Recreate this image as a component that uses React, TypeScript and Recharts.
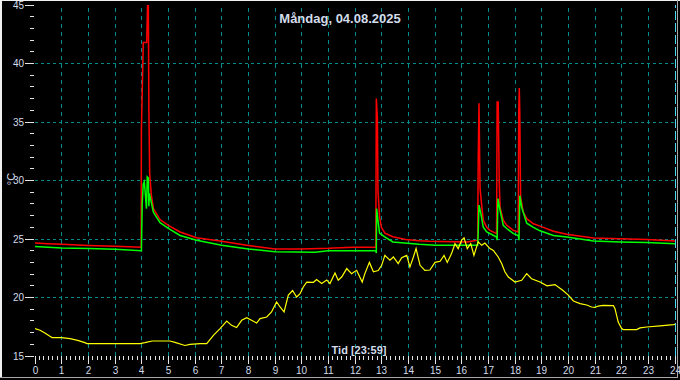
import React from 'react';
import { LineChart, Line, XAxis, YAxis, ReferenceLine } from 'recharts';

// [hour, °C]
const redSeries: [number, number][] = [
  [0, 24.65], [0.5, 24.6], [1, 24.55], [2, 24.45], [3, 24.38], [3.98, 24.3],
  [3.99, 34.3], [4.02, 37.5], [4.06, 41.8], [4.19, 41.8], [4.22, 45], [4.25, 45],
  [4.27, 36], [4.3, 30.6], [4.36, 28.8], [4.44, 27.6], [4.69, 26.66], [5.0, 26.17],
  [5.44, 25.6], [6.06, 25.1], [7.0, 24.8], [8.0, 24.45], [9.0, 24.15], [10, 24.15],
  [11, 24.2], [11.9, 24.3], [12.78, 24.3], [12.8, 37.0], [12.84, 35.3], [12.86, 29.2],
  [12.92, 26.9], [12.99, 26.0], [13.12, 25.5], [13.42, 25.2], [13.9, 24.95], [14.4, 24.85],
  [14.8, 24.8], [16.2, 24.75], [16.6, 24.9], [16.62, 31.7], [16.65, 36.6], [16.69, 29.3],
  [16.75, 27.9], [16.81, 26.6], [16.94, 26.0], [17.06, 25.74], [17.31, 25.46], [17.33, 36.7],
  [17.37, 36.7], [17.41, 29.7], [17.44, 27.7], [17.56, 26.6], [17.69, 26.17], [17.94, 25.74],
  [18.12, 25.6], [18.14, 35.8], [18.16, 37.9], [18.18, 35.8], [18.21, 28.6], [18.31, 27.3],
  [18.44, 26.74], [18.69, 26.3], [18.94, 26.1], [19.44, 25.66], [19.94, 25.4], [20.94, 25.09],
  [21.94, 25.03], [22.94, 24.95], [24, 24.83],
];

const greenSeries: [number, number][] = [
  [0, 24.35], [1, 24.23], [2, 24.18], [3, 24.12], [3.99, 24.0], [4.0, 25.3], [4.02, 28.0],
  [4.06, 29.7], [4.1, 29.9], [4.18, 27.6], [4.21, 30.3], [4.25, 30.2], [4.27, 27.8],
  [4.29, 28.9], [4.44, 27.3], [4.69, 26.4], [5.0, 25.9], [5.44, 25.3], [6.06, 24.9],
  [7.0, 24.46], [8.0, 24.15], [9.0, 23.9], [10.5, 23.86], [11, 24.0], [12.78, 24.0],
  [12.8, 23.8], [12.81, 27.6], [12.86, 26.6], [12.92, 25.5], [13.1, 25.2], [13.42, 24.75],
  [14.4, 24.55], [15, 24.46], [16.6, 24.46], [16.62, 25.5], [16.65, 27.9], [16.71, 27.3],
  [16.81, 26.0], [16.94, 25.6], [17.31, 25.17], [17.33, 24.9], [17.36, 28.45], [17.44, 27.45],
  [17.56, 26.17], [17.69, 25.9], [17.94, 25.46], [18.12, 25.3], [18.15, 24.9], [18.18, 28.7],
  [18.25, 27.7], [18.44, 26.35], [18.69, 26.0], [18.94, 25.7], [19.44, 25.3], [19.94, 25.17],
  [20.94, 24.83], [21.94, 24.75], [22.94, 24.7], [24, 24.6],
];

const yellowSeries: [number, number][] = [
  [0, 17.34], [0.19, 17.2], [0.37, 16.97], [0.56, 16.68], [0.64, 16.57], [1.0, 16.57],
  [1.31, 16.49], [1.6, 16.34], [1.87, 16.14], [1.95, 16.06], [3.0, 16.06], [3.94, 16.06],
  [4.12, 16.14], [4.39, 16.28], [5.06, 16.28], [5.25, 16.17], [5.62, 15.9], [5.81, 16.0],
  [6.19, 16.06], [6.44, 16.06], [6.69, 16.77], [6.94, 17.34], [7.19, 17.99], [7.37, 17.62],
  [7.56, 17.43], [7.75, 18.05], [7.94, 18.28], [8.12, 18.05], [8.31, 17.82], [8.44, 18.2],
  [8.69, 18.33], [8.87, 18.76], [9.06, 19.62], [9.19, 19.19], [9.34, 18.76], [9.5, 20.2],
  [9.66, 20.6], [9.81, 20.04], [9.94, 20.33], [10.06, 20.9], [10.19, 21.32], [10.44, 21.3],
  [10.56, 21.53], [10.75, 21.19], [10.94, 21.5], [11.06, 21.19], [11.25, 22.1], [11.37, 21.47],
  [11.5, 21.75], [11.69, 22.47], [11.87, 22.04], [12.06, 22.32], [12.27, 21.32], [12.37, 22.04],
  [12.54, 23.0], [12.69, 22.2], [12.87, 22.3], [13.0, 22.75], [13.12, 23.6], [13.31, 23.18],
  [13.44, 23.46], [13.62, 22.9], [13.75, 23.4], [13.94, 23.6], [14.06, 22.6], [14.19, 23.46],
  [14.29, 24.18], [14.44, 22.75], [14.62, 22.32], [14.81, 22.35], [15.0, 23.0], [15.19, 23.1],
  [15.34, 23.6], [15.46, 23.0], [15.62, 23.75], [15.75, 24.6], [15.87, 24.18], [16.0, 24.9],
  [16.09, 25.1], [16.21, 24.18], [16.34, 24.6], [16.46, 23.6], [16.62, 24.75], [16.75, 24.46],
  [16.87, 24.66], [17.06, 24.18], [17.19, 24.03], [17.37, 23.46], [17.5, 22.9], [17.62, 22.2],
  [17.75, 21.75], [18.0, 21.32], [18.25, 21.47], [18.44, 22.04], [18.62, 21.6], [18.94, 21.32],
  [19.2, 21.0], [19.5, 21.1], [19.8, 20.6], [20.0, 20.2], [20.19, 19.7], [20.44, 19.48],
  [20.69, 19.36], [20.87, 19.19], [21.0, 19.16], [21.12, 19.27], [21.31, 19.33], [21.69, 19.3],
  [21.75, 19.05], [21.81, 18.48], [21.87, 17.9], [22.0, 17.34], [22.06, 17.26], [22.56, 17.26],
  [22.69, 17.4], [22.94, 17.48], [23.44, 17.57], [23.94, 17.68], [24, 17.7],
];

const yTickLabels = [15, 20, 25, 30, 35, 40, 45];
const yGridValues = [20, 25, 30, 35, 40];
const xTickLabels = [0, 1, 2, 3, 4, 5, 6, 7, 8, 9, 10, 11, 12, 13, 14, 15, 16, 17, 18, 19, 20, 21, 22, 23, 24];
const xGridValues = [1, 2, 3, 4, 5, 6, 7, 8, 9, 10, 11, 12, 13, 14, 15, 16, 17, 18, 19, 20, 21, 22, 23];
const yMinorTicks = Array.from({ length: 31 }, (_, i) => 15 + i);
const xMinorTicks = Array.from({ length: 145 }, (_, i) => i / 6);

const title = 'Måndag, 04.08.2025';
const xLabel = 'Tid [23:59]';
const yLabel = '°C';

const TEXT = '#d2dcea';
const TICK = '#e4e4e4';
const GRID = '#008a8a';
const FONT = '"Liberation Sans", Arial, sans-serif';

const toRows = (s: [number, number][]) => s.map(([h, v]) => ({ h, v }));
const redData = toRows(redSeries);
const greenData = toRows(greenSeries);
const yellowData = toRows(yellowSeries);

const YTick = (props: any) => {
  const { x, y, payload } = props;
  const v = payload.value;
  const major = yTickLabels.includes(v);
  const py = Math.floor(y) + 0.5;
  return (
    <g>
      <line x1={major ? x - 10 : x - 5} x2={x - 1} y1={py} y2={py} stroke={TICK} strokeWidth={1} />
      {major && (
        <text x={x - 11} y={py} dy={3.5} textAnchor="end" fill={TEXT} fontSize={10} fontFamily={FONT}>
          {v}
        </text>
      )}
    </g>
  );
};

const XTick = (props: any) => {
  const { x, y, payload } = props;
  const v = payload.value;
  const major = Math.abs(v - Math.round(v)) < 1e-6;
  const px = Math.floor(x) + 0.5;
  return (
    <g>
      <line x1={px} x2={px} y1={y} y2={y + (major ? 8 : 4)} stroke={TICK} strokeWidth={1} />
      {major && xTickLabels.includes(Math.round(v)) && (
        <text x={px} y={y + 18} textAnchor="middle" fill={TEXT} fontSize={10} fontFamily={FONT}>
          {Math.round(v)}
        </text>
      )}
    </g>
  );
};

const crispV = (color: string, dash: string) => (p: any) => {
  const px = Math.floor(p.x1) + 0.5;
  return <line x1={px} x2={px} y1={p.y1} y2={p.y2} stroke={color} strokeWidth={1} strokeDasharray={dash} />;
};
const crispH = (color: string, dash: string) => (p: any) => {
  const py = Math.floor(p.y1) + 0.5;
  return <line x1={p.x1} x2={p.x2} y1={py} y2={py} stroke={color} strokeWidth={1} strokeDasharray={dash} />;
};

export default function App() {
  return (
    <div style={{ position: 'absolute', left: 0, top: 0, width: 680, height: 380, background: '#000', overflow: 'hidden' }}>
      <LineChart width={680} height={380} data={redData} margin={{ top: 5, right: 5, left: 0, bottom: 0 }}>
        <XAxis
          type="number"
          dataKey="h"
          domain={[0, 24]}
          ticks={xMinorTicks}
          interval={0}
          tick={<XTick />}
          tickLine={false}
          axisLine={false}
          tickSize={0}
          tickMargin={0}
          height={24}
          allowDataOverflow
        />
        <YAxis
          type="number"
          domain={[15, 45]}
          ticks={yMinorTicks}
          interval={0}
          tick={<YTick />}
          tickLine={false}
          axisLine={false}
          tickSize={0}
          tickMargin={0}
          width={35}
          allowDataOverflow
        />
        {yGridValues.map((v) => (
          <ReferenceLine key={'y' + v} y={v} stroke={GRID} strokeDasharray="3 3" shape={crispH(GRID, '3 3')} />
        ))}
        {xGridValues.map((v) => (
          <ReferenceLine key={'x' + v} x={v} stroke={GRID} strokeDasharray="4 4" shape={crispV(GRID, '4 4')} />
        ))}
        <ReferenceLine x={24} stroke="#48d8f0" strokeDasharray="9 3" shape={crispV('#48d8f0', '9 3')} />
        <Line data={redData} dataKey="v" type="linear" stroke="#ff0000" strokeWidth={1.5} dot={false} isAnimationActive={false} />
        <Line data={greenData} dataKey="v" type="linear" stroke="#00ff00" strokeWidth={1.5} dot={false} isAnimationActive={false} />
        <Line data={yellowData} dataKey="v" type="linear" stroke="#ffff00" strokeWidth={1.2} dot={false} isAnimationActive={false} />
      </LineChart>
      <svg width={680} height={380} style={{ position: 'absolute', left: 0, top: 0, pointerEvents: 'none' }}>
        <rect x={0} y={0} width={680} height={1} fill="#f0f0f0" />
        <rect x={0} y={0} width={2} height={378} fill="#f0f0f0" />
        <rect x={677} y={0} width={1} height={378} fill="#a8a8a8" />
        <rect x={0} y={377} width={678} height={1} fill="#a8a8a8" />
        <text x={340} y={22.5} textAnchor="middle" fill={TEXT} fontSize={13} fontWeight="bold" fontFamily={FONT}>
          {title}
        </text>
        <text x={359} y={353.5} textAnchor="middle" fill={TEXT} fontSize={11} fontWeight="bold" fontFamily={FONT}>
          {xLabel}
        </text>
        <text x={15} y={179} textAnchor="middle" fill={TEXT} fontSize={11} fontFamily={FONT} transform="rotate(-90 15 179)">
          {yLabel}
        </text>
      </svg>
    </div>
  );
}
